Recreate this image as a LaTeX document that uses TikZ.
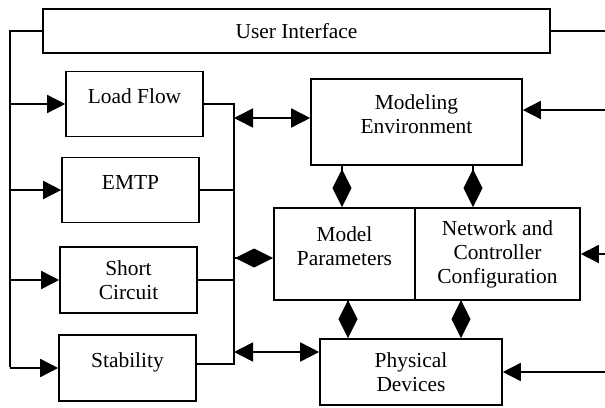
\documentclass[tikz,border=0pt]{standalone}
\usepackage{fontspec}
\setmainfont{Liberation Serif}
\usetikzlibrary{arrows.meta}
\newcommand{\BlockText}{\fontsize{10.7}{12}\selectfont}
\newcommand{\liftline}{\\[-4pt]\mbox{}}
\tikzset{
  block/.style={draw,line width=0.8pt,align=center,inner sep=0pt,font=\BlockText},
  tool block/.style={block,minimum width=68.5pt,minimum height=32.5pt},
  link/.style={draw,line width=0.8pt},
  feed/.style={link,-{Triangle[length=9pt,width=9pt]}},
  dual feed/.style={link,{Triangle[length=9.5pt,width=9.5pt]}-{Triangle[length=9.5pt,width=9.5pt]}},
  diamond link/.style={link,-{Diamond[length=19pt,width=9.5pt]}}
}

\begin{document}
\begin{tikzpicture}[x=0.5pt,y=-0.5pt]
  % pixel grid of the 605 x 407 original
  \path[use as bounding box] (0,0) rectangle (605,407);

  \node[block,minimum width=253.5pt,minimum height=22pt] (ui) at (296.5,31) {User Interface};
  \node[tool block] (loadflow) at (134.5,104) {Load Flow\liftline};
  \node[tool block] (emtp) at (130.5,190) {EMTP\liftline};
  \node[tool block,minimum height=33pt] (shortcirc) at (128.5,280) {Short\\Circuit};
  \node[tool block,minimum height=33pt] (stability) at (127.5,368) {Stability\liftline};
  \node[block,minimum width=105.5pt,minimum height=43pt] (modenv) at (416.5,122) {Modeling\\Environment\liftline};
  \node[block,minimum width=70.5pt,minimum height=46pt] (modpar) at (344.5,254) {Model\\Parameters\liftline};
  \node[block,minimum width=82.5pt,minimum height=46pt] (netconf) at (497.5,254) {Network and\\Controller\\Configuration};
  \node[block,minimum width=91pt,minimum height=33pt] (physdev) at (411,372) {Physical\\Devices};

  \coordinate (leftbus) at (10,367);
  \coordinate (midbus) at (234,364);
  \coordinate (rightedge) at (605,0);
  \coordinate (envin) at (605,110);
  \coordinate (envlink) at (234,118);
  \coordinate (parlink) at (234,258);
  \coordinate (devlink) at (234,352);
  \coordinate (envpar) at (342,0);
  \coordinate (envnet) at (473,0);
  \coordinate (pardev) at (348,0);
  \coordinate (netdev) at (461,0);

  % user interface feeds the analysis tools
  \draw[link] (ui.west) -| (leftbus);
  \foreach \blk in {loadflow,emtp,shortcirc,stability}
    \draw[feed] (\blk.west -| leftbus) -- (\blk.west);

  % tools share one bus on the right
  \draw[link] (loadflow.east) -| (midbus) -- (midbus -| stability.east);
  \foreach \blk in {emtp,shortcirc}
    \draw[link] (\blk.east) -- (\blk.east -| midbus);
  \draw[dual feed] (envlink) -- (envlink -| modenv.west);
  \draw[diamond link] (parlink) -- (parlink -| modpar.west);
  \draw[dual feed] (devlink) -- (devlink -| physdev.west);

  \draw[diamond link] (envpar |- modenv.south) -- (envpar |- modpar.north);
  \draw[diamond link] (envnet |- modenv.south) -- (envnet |- netconf.north);
  \draw[diamond link] (pardev |- modpar.south) -- (pardev |- physdev.north);
  \draw[diamond link] (netdev |- netconf.south) -- (netdev |- physdev.north);

  % links leaving on the right edge
  \draw[link] (ui.east) -- (ui.east -| rightedge);
  \draw[feed] (envin) -- (envin -| modenv.east);
  \draw[feed] (netconf.east -| rightedge) -- (netconf.east);
  \draw[feed] (physdev.east -| rightedge) -- (physdev.east);
\end{tikzpicture}
\end{document}
